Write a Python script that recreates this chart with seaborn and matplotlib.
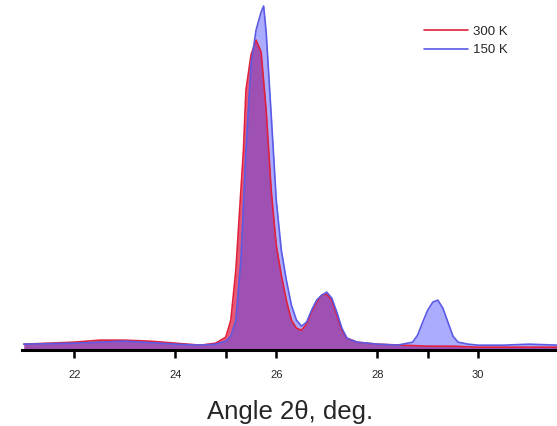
import matplotlib
matplotlib.use("Agg")
import matplotlib.pyplot as plt
import seaborn as sns
import pandas as pd

# Diffraction profiles, 2-theta in degrees vs. intensity (arb. units)
angle_300 = [21.0, 21.5, 22.0, 22.5, 23.0, 23.5, 24.0, 24.5, 24.8, 25.0, 25.1, 25.2,
             25.3, 25.35, 25.4, 25.5, 25.6, 25.7, 25.8, 25.9, 26.0, 26.1, 26.2, 26.3,
             26.4, 26.5, 26.6, 26.7, 26.8, 26.9, 27.0, 27.1, 27.2, 27.3, 27.4, 27.6,
             28.0, 28.5, 29.0, 29.5, 30.0, 30.5, 31.0, 31.6]
int_300 = [6, 7, 8, 10, 10, 9, 7, 5, 7, 13, 30, 80,
           160, 200, 260, 295, 310, 298, 240, 160, 105, 75, 50, 30,
           22, 20, 26, 38, 48, 55, 56, 50, 35, 20, 12, 8,
           6, 5, 4, 4, 3, 3, 3, 3]

angle_150 = [21.0, 22.0, 23.0, 24.0, 24.5, 24.8, 25.0, 25.1, 25.2, 25.3, 25.4, 25.5,
             25.6, 25.7, 25.75, 25.8, 25.9, 26.0, 26.1, 26.2, 26.3, 26.4, 26.5, 26.6,
             26.7, 26.8, 26.9, 27.0, 27.1, 27.2, 27.3, 27.4, 27.6, 28.0, 28.4, 28.7,
             28.8, 28.9, 29.0, 29.1, 29.2, 29.3, 29.4, 29.5, 29.6, 29.8, 30.0, 30.5,
             31.0, 31.6]
int_150 = [6, 7, 9, 6, 5, 6, 9, 14, 30, 90, 200, 285,
           320, 338, 344, 318, 235, 150, 100, 70, 45, 30, 24, 28,
           40, 50, 55, 58, 52, 38, 22, 12, 8, 6, 5, 8,
           15, 28, 40, 48, 50, 42, 28, 14, 8, 6, 5, 5,
           6, 5]

series_labels = ["300 K", "150 K"]
x_ticks = [22, 24, 26, 28, 30]
x_minor = [25, 29]

sns.set_theme(style="white")
plt.rcParams["font.family"] = ["Liberation Sans", "DejaVu Sans"]

fig = plt.figure(figsize=(5.57, 4.26), dpi=100)
ax = fig.add_axes([0.04, 0.178, 0.96, 0.822])

df300 = pd.DataFrame({"angle": angle_300, "intensity": int_300})
df150 = pd.DataFrame({"angle": angle_150, "intensity": int_150})

red_line, red_fill = "#e0203c", "#e02048"
blue_line, blue_fill = "#5a5ae6", "#4848ff"

ax.fill_between(df300["angle"], 0, df300["intensity"], color=red_fill, alpha=0.75, lw=0)
ax.fill_between(df150["angle"], 0, df150["intensity"], color=blue_fill, alpha=0.45, lw=0)
sns.lineplot(data=df300, x="angle", y="intensity", color=red_line, lw=1.2,
             label=series_labels[0], ax=ax)
sns.lineplot(data=df150, x="angle", y="intensity", color=blue_line, lw=1.2,
             label=series_labels[1], ax=ax)

ax.set_xlim(20.97, 31.56)
ax.set_ylim(0, 350)
ax.set_xticks(x_ticks)
ax.set_xticklabels([str(t) for t in x_ticks], fontsize=8)
ax.set_xticks(x_minor, minor=True)
ax.set_yticks([])
ax.set_ylabel("")
ax.set_xlabel("Angle 2θ, deg.", fontsize=18.5, labelpad=14)

for side in ["left", "top", "right"]:
    ax.spines[side].set_visible(False)
ax.spines["bottom"].set_linewidth(2.2)
ax.spines["bottom"].set_color("black")
ax.tick_params(axis="x", which="major", direction="out", length=6, width=1.8,
               color="black", bottom=True, pad=8.5)
ax.tick_params(axis="x", which="minor", direction="out", length=6, width=1.8,
               color="black", bottom=True)

ax.legend(loc="upper right", bbox_to_anchor=(0.93, 0.96), frameon=False,
          fontsize=9.5, handlelength=3.3, handletextpad=0.4, labelspacing=0.45)

fig.savefig("out.png", dpi=100)
